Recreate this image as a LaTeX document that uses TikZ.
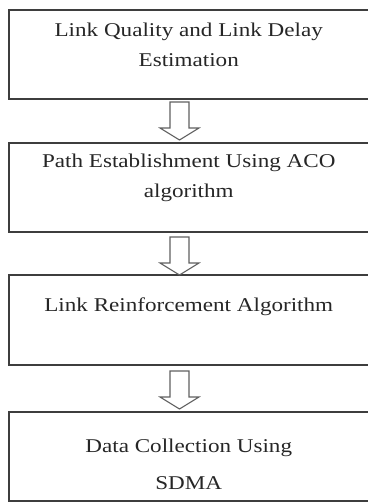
\documentclass[tikz,border=0pt]{standalone}
\usepackage{fontspec}
\setmainfont{Liberation Serif}[FakeStretch=1.185]
\usetikzlibrary{calc}
\usetikzlibrary{positioning}

\definecolor{boxline}{RGB}{62,62,62}
\definecolor{arrowline}{RGB}{96,96,96}

\begin{document}
\begin{tikzpicture}[x=1pt,y=1pt,
        stage/.style={draw=boxline,line width=1.4pt,rectangle,minimum width=359.5pt,minimum height=89pt,inner sep=0pt,outer sep=0pt},
        stagetext/.style={align=center,inner sep=0pt,anchor=base,text=black!85},
        hollow/.style={draw=arrowline,line width=1.1pt,line join=miter}]
                \useasboundingbox (0,0) rectangle (367,-502);

                \node[stage,anchor=north west] (b1) at (9,-10) {};
                \node[stage,below=44pt of b1] (b2) {};
                \node[stage,minimum height=90pt,below=43pt of b2] (b3) {};
                \node[stage,below=47pt of b3] (b4) {};

                % base anchor = baseline of the last line
                \node[stagetext,font=\fontsize{19.5}{30}\selectfont] (t1) at ($(b1.north)+(0,-56.7)$) {Link Quality and Link Delay\\Estimation};
                \node[stagetext,font=\fontsize{19.5}{30}\selectfont] (t2) at ($(b2.north)+(0,-55)$) {Path Establishment Using ACO\\algorithm};
                \node[stagetext,font=\fontsize{19.5}{30}\selectfont] (t3) at ($(b3.north)+(0,-36.7)$) {Link Reinforcement Algorithm};
                \node[stagetext,font=\fontsize{19.5}{37}\selectfont] (t4) at ($(b4.north)+(0,-77.3)$) {Data Collection Using\\SDMA};

                \draw[hollow] ($(b1.south)+(-18.75,-3)$) -- ++(0,-26) -- ++(-10,0) -- ++(19.5,-12) -- ++(19.5,12) -- ++(-10,0) -- ++(0,26) -- cycle;
                \draw[hollow] ($(b2.south)+(-18.75,-5)$) -- ++(0,-26) -- ++(-10,0) -- ++(19.5,-12) -- ++(19.5,12) -- ++(-10,0) -- ++(0,26) -- cycle;
                \draw[hollow] ($(b3.south)+(-18.75,-6)$) -- ++(0,-26) -- ++(-10,0) -- ++(19.5,-12) -- ++(19.5,12) -- ++(-10,0) -- ++(0,26) -- cycle;
            \end{tikzpicture}
\end{document}
